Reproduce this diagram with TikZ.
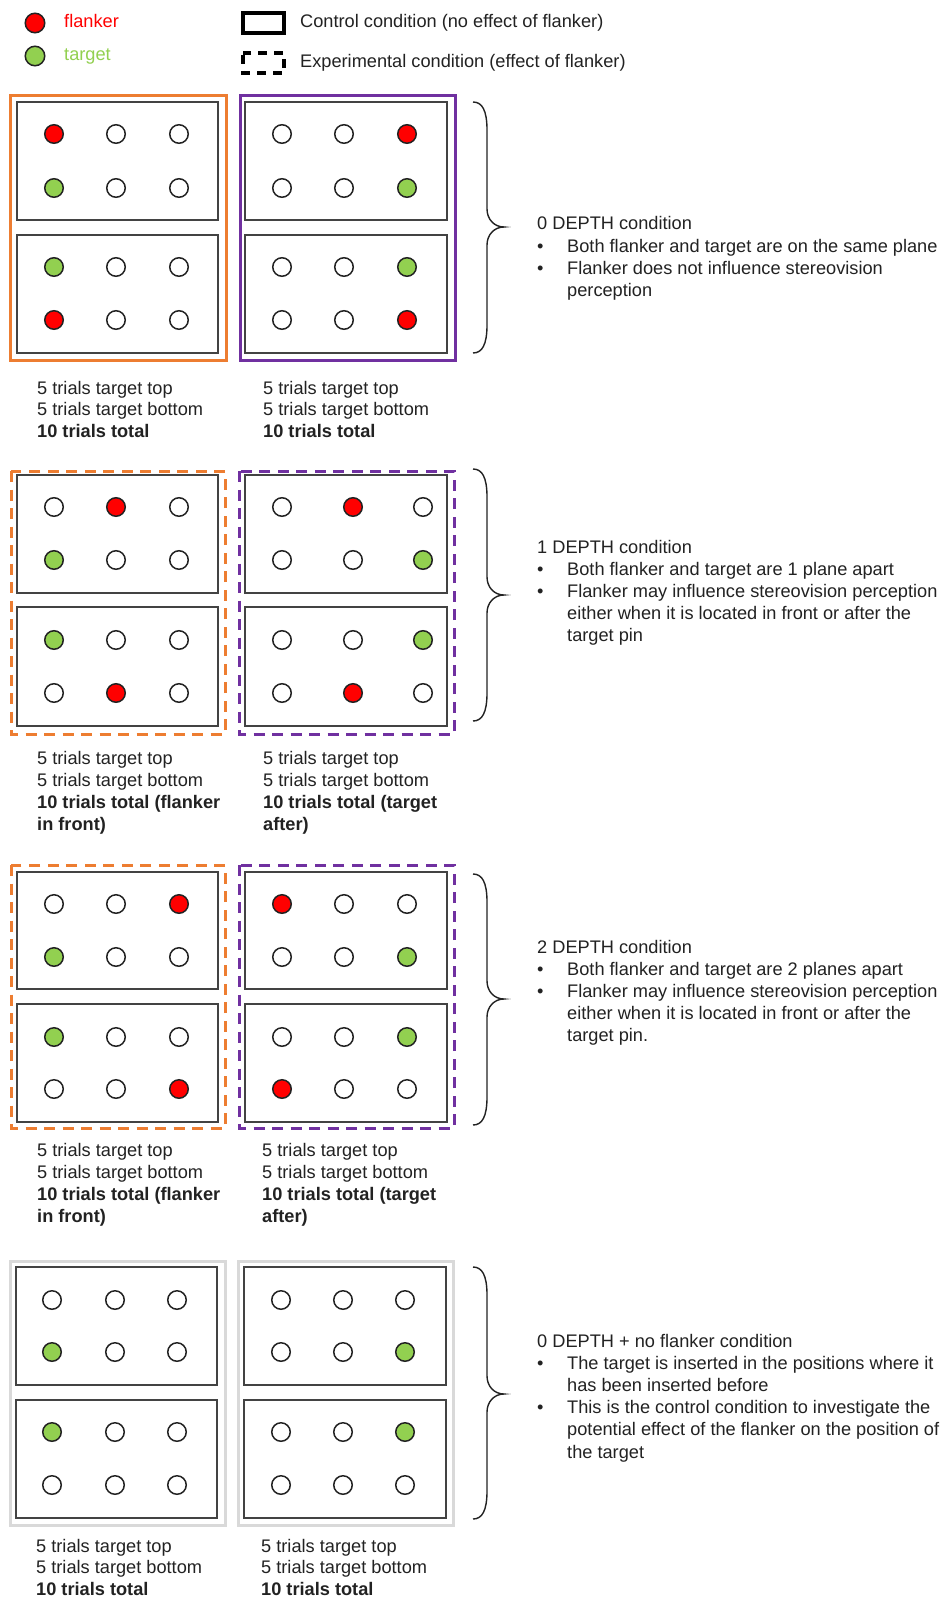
\documentclass[tikz,border=0pt]{standalone}
\usepackage{fontspec}
\setmainfont{Liberation Sans}
\definecolor{flk}{HTML}{FF0000}
\definecolor{tgt}{HTML}{92D050}
\definecolor{wht}{HTML}{FFFFFF}
\definecolor{orng}{HTML}{ED7D31}
\definecolor{purp}{HTML}{7030A0}
\definecolor{lgray}{HTML}{D9D9D9}
\definecolor{ink}{HTML}{222222}
\tikzset{
  pinnode/.style={circle, draw=ink, line width=1.5pt, minimum size=18.5pt, inner sep=0pt},
  panel/.style={draw=ink!85, line width=1.9pt},
  outersolid/.style={line width=3pt},
  outerdash/.style={line width=3pt, dash pattern=on 11pt off 7.5pt},
  txt/.style={anchor=base west, inner sep=0pt, font=\fontsize{18.2}{22}\selectfont, text=ink},
  boldtxt/.style={txt, font=\fontsize{18.2}{22}\selectfont\bfseries},
  bracepath/.style={draw=ink, line width=1.4pt},
}
\newcommand\prow[3]{\foreach \px/\pc [count=\pk] in {#3} {\node[pinnode, fill=\pc] (#1\pk) at (\px,#2) {};}}
\newcommand\tl[4]{\node[txt] (#1) at (#2,{#3+6}) {#4};}
\newcommand\tlb[4]{\node[boldtxt] (#1) at (#2,{#3+6}) {#4};}
\newcommand\bul[4]{\node[txt] (#1b) at (537,{#3+6}) {•};\node[txt] (#1) at (#2,{#3+6}) {#4};}
\newcommand\brc[3]{\draw[bracepath] (473,#1) .. controls (482,#1) and (487,{#1+8}) .. (487,{#1+28}) -- (487,{#2-18}) .. controls (487,{#2-8}) and (494,#2) .. (504,#2) .. controls (494,#2) and (487,{#2+8}) .. (487,{#2+18}) -- (487,{#3-28}) .. controls (487,{#3-8}) and (482,#3) .. (473,#3);}
\begin{document}
\begin{tikzpicture}[x=1pt,y=-1pt]
\useasboundingbox[fill=white] (0,0) rectangle (946,1600);
% legend
\node[pinnode, fill=flk, minimum size=19.5pt] (legf) at (35,23) {};
\node[pinnode, fill=tgt, minimum size=19.5pt] (legt) at (35,56) {};
\node[txt, text=flk] (legft) at (64,{22+6}) {flanker};
\node[txt, text=tgt] (legtt) at (64,{55+6}) {target};
\draw[line width=3.2pt] (243,13) rectangle (284,33);
\draw[line width=3.2pt, dash pattern=on 9pt off 7pt, dash phase=-2pt] (243,53) rectangle (284,73);
\tl{legc}{300}{22}{Control condition (no effect of flanker)}
\tl{lege}{300}{62}{Experimental condition (effect of flanker)}
% ===== block 1 : 0 depth
\draw[outersolid, draw=orng] (10,96) rectangle (226,360);
\draw[outersolid, draw=purp] (240,96) rectangle (455,360);
\draw[panel] (17,102) rectangle (218,220);
\draw[panel] (17,235) rectangle (218,353);
\draw[panel] (245,102) rectangle (447,220);
\draw[panel] (245,235) rectangle (447,353);
\prow{aLa}{134}{54/flk,116/wht,179/wht}
\prow{aLb}{188}{54/tgt,116/wht,179/wht}
\prow{aLc}{267}{54/tgt,116/wht,179/wht}
\prow{aLd}{320}{54/flk,116/wht,179/wht}
\prow{aRa}{134}{282/wht,344/wht,407/flk}
\prow{aRb}{188}{282/wht,344/wht,407/tgt}
\prow{aRc}{267}{282/wht,344/wht,407/tgt}
\prow{aRd}{320}{282/wht,344/wht,407/flk}
\tl{aL1}{37}{388}{5 trials target top}
\tl{aL2}{37}{409}{5 trials target bottom}
\tlb{aL3}{37}{431}{10 trials total}
\tl{aR1}{263}{388}{5 trials target top}
\tl{aR2}{263}{409}{5 trials target bottom}
\tlb{aR3}{263}{431}{10 trials total}
\brc{102}{227}{353}
\tl{aT0}{537}{223}{0 DEPTH condition}
\bul{aT1}{567}{246}{Both flanker and target are on the same plane}
\bul{aT2}{567}{268}{Flanker does not influence stereovision}
\tl{aT3}{567}{290}{perception}
% ===== block 2 : 1 depth
\draw[outerdash, draw=orng] (11,471) rectangle (225,734);
\draw[outerdash, draw=purp] (239,471) rectangle (454,734);
\draw[panel] (17,475) rectangle (218,593);
\draw[panel] (17,607) rectangle (218,726);
\draw[panel] (245,475) rectangle (447,593);
\draw[panel] (245,607) rectangle (447,726);
\prow{bLa}{507}{54/wht,116/flk,179/wht}
\prow{bLb}{560}{54/tgt,116/wht,179/wht}
\prow{bLc}{640}{54/tgt,116/wht,179/wht}
\prow{bLd}{693}{54/wht,116/flk,179/wht}
\prow{bRa}{507}{282/wht,353/flk,423/wht}
\prow{bRb}{560}{282/wht,353/wht,423/tgt}
\prow{bRc}{640}{282/wht,353/wht,423/tgt}
\prow{bRd}{693}{282/wht,353/flk,423/wht}
\tl{bL1}{37}{758}{5 trials target top}
\tl{bL2}{37}{780}{5 trials target bottom}
\tlb{bL3}{37}{802}{10 trials total (flanker}
\tlb{bL4}{37}{824}{in front)}
\tl{bR1}{263}{758}{5 trials target top}
\tl{bR2}{263}{780}{5 trials target bottom}
\tlb{bR3}{263}{802}{10 trials total (target}
\tlb{bR4}{263}{824}{after)}
\brc{469}{595}{721}
\tl{bT0}{537}{547}{1 DEPTH condition}
\bul{bT1}{567}{569}{Both flanker and target are 1 plane apart}
\bul{bT2}{567}{591}{Flanker may influence stereovision perception}
\tl{bT3}{567}{613}{either when it is located in front or after the}
\tl{bT4}{567}{635}{target pin}
% ===== block 3 : 2 depth
\draw[outerdash, draw=orng] (11,865) rectangle (225,1128);
\draw[outerdash, draw=purp] (239,865) rectangle (454,1128);
\draw[panel] (17,872) rectangle (218,989);
\draw[panel] (17,1004) rectangle (218,1122);
\draw[panel] (245,872) rectangle (447,989);
\draw[panel] (245,1004) rectangle (447,1122);
\prow{cLa}{904}{54/wht,116/wht,179/flk}
\prow{cLb}{957}{54/tgt,116/wht,179/wht}
\prow{cLc}{1037}{54/tgt,116/wht,179/wht}
\prow{cLd}{1089}{54/wht,116/wht,179/flk}
\prow{cRa}{904}{282/flk,344/wht,407/wht}
\prow{cRb}{957}{282/wht,344/wht,407/tgt}
\prow{cRc}{1037}{282/wht,344/wht,407/tgt}
\prow{cRd}{1089}{282/flk,344/wht,407/wht}
\tl{cL1}{37}{1150}{5 trials target top}
\tl{cL2}{37}{1172}{5 trials target bottom}
\tlb{cL3}{37}{1194}{10 trials total (flanker}
\tlb{cL4}{37}{1216}{in front)}
\tl{cR1}{262}{1150}{5 trials target top}
\tl{cR2}{262}{1172}{5 trials target bottom}
\tlb{cR3}{262}{1194}{10 trials total (target}
\tlb{cR4}{262}{1216}{after)}
\brc{874}{999}{1125}
\tl{cT0}{537}{947}{2 DEPTH condition}
\bul{cT1}{567}{969}{Both flanker and target are 2 planes apart}
\bul{cT2}{567}{991}{Flanker may influence stereovision perception}
\tl{cT3}{567}{1013}{either when it is located in front or after the}
\tl{cT4}{567}{1035}{target pin.}
% ===== block 4 : 0 depth + no flanker
\draw[outersolid, draw=lgray] (10,1261) rectangle (225,1525);
\draw[outersolid, draw=lgray] (238,1261) rectangle (453,1525);
\draw[panel] (16,1267) rectangle (217,1385);
\draw[panel] (16,1400) rectangle (217,1518);
\draw[panel] (244,1267) rectangle (446,1385);
\draw[panel] (244,1400) rectangle (446,1518);
\prow{dLa}{1300}{52/wht,115/wht,177/wht}
\prow{dLb}{1352}{52/tgt,115/wht,177/wht}
\prow{dLc}{1432}{52/tgt,115/wht,177/wht}
\prow{dLd}{1485}{52/wht,115/wht,177/wht}
\prow{dRa}{1300}{281/wht,343/wht,405/wht}
\prow{dRb}{1352}{281/wht,343/wht,405/tgt}
\prow{dRc}{1432}{281/wht,343/wht,405/tgt}
\prow{dRd}{1485}{281/wht,343/wht,405/wht}
\tl{dL1}{36}{1546}{5 trials target top}
\tl{dL2}{36}{1567}{5 trials target bottom}
\tlb{dL3}{36}{1589}{10 trials total}
\tl{dR1}{261}{1546}{5 trials target top}
\tl{dR2}{261}{1567}{5 trials target bottom}
\tlb{dR3}{261}{1589}{10 trials total}
\brc{1267}{1394}{1519}
\tl{dT0}{537}{1341}{0 DEPTH + no flanker condition}
\bul{dT1}{567}{1363}{The target is inserted in the positions where it}
\tl{dT2}{567}{1385}{has been inserted before}
\bul{dT3}{567}{1407}{This is the control condition to investigate the}
\tl{dT4}{567}{1429}{potential effect of the flanker on the position of}
\tl{dT5}{567}{1452}{the target}
\end{tikzpicture}
\end{document}
